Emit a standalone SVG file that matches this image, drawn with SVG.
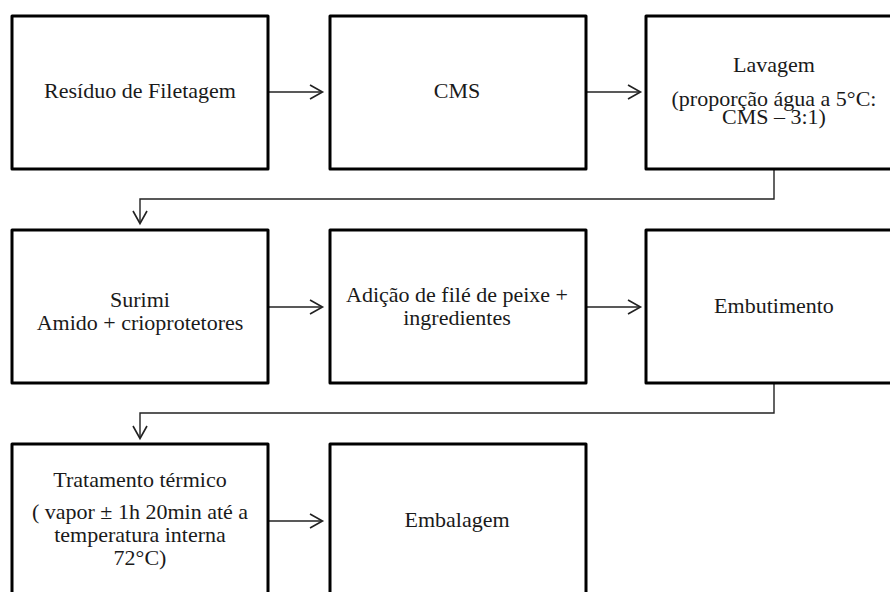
<svg xmlns="http://www.w3.org/2000/svg" width="890" height="592" viewBox="0 0 890 592">
<defs>
<style>
.box{fill:#fff;stroke:#000;stroke-width:3;stroke-linejoin:round}
.t{font-family:"Liberation Serif","Times New Roman",serif;font-size:22px;fill:#1a1a1a;text-anchor:middle}
.c{fill:none;stroke:#222;stroke-width:1.4}
.ah{fill:none;stroke:#222;stroke-width:1.6}
</style>
</defs>
<rect width="890" height="592" fill="#fff"/>
<g id="connectors">
<path class="c" d="M269 92H322"/><path class="ah" d="M310 85L322.5 92L310 99"/>
<path class="c" d="M586 92H640"/><path class="ah" d="M628 85L640.5 92L628 99"/>
<path class="c" d="M774 170V199H140V223"/><path class="ah" d="M133 211L140 223.5L147 211"/>
<path class="c" d="M269 307H322"/><path class="ah" d="M310 300L322.5 307L310 314"/>
<path class="c" d="M586 307H640"/><path class="ah" d="M628 300L640.5 307L628 314"/>
<path class="c" d="M774 384V413H140V438"/><path class="ah" d="M133 426L140 438.5L147 426"/>
<path class="c" d="M269 521H322"/><path class="ah" d="M310 514L322.5 521L310 528"/>
</g>
<g id="n1"><rect class="box" x="12" y="16" width="256" height="153"/><text class="t" x="140" y="98">Resíduo de Filetagem</text></g>
<g id="n2"><rect class="box" x="330" y="16" width="256" height="153"/><text class="t" x="457" y="98">CMS</text></g>
<g id="n3"><rect class="box" x="646" y="16" width="256" height="153"/><text class="t" x="774" y="71.5">Lavagem</text><text class="t" x="774" y="106">(proporção água a 5°C:</text><text class="t" x="774" y="123.5">CMS – 3:1)</text></g>
<g id="n4"><rect class="box" x="12" y="230" width="256" height="153"/><text class="t" x="140" y="306.5">Surimi</text><text class="t" x="140" y="329.5">Amido + crioprotetores</text></g>
<g id="n5"><rect class="box" x="330" y="230" width="256" height="153"/><text class="t" x="457" y="302">Adição de filé de peixe +</text><text class="t" x="457" y="325">ingredientes</text></g>
<g id="n6"><rect class="box" x="646" y="230" width="256" height="153"/><text class="t" x="774" y="313">Embutimento</text></g>
<g id="n7"><rect class="box" x="12" y="444" width="256" height="153"/><text class="t" x="140" y="487">Tratamento térmico</text><text class="t" x="140" y="519">( vapor ± 1h 20min até a</text><text class="t" x="140" y="541.5">temperatura interna</text><text class="t" x="140" y="565">72°C)</text></g>
<g id="n8"><rect class="box" x="330" y="444" width="256" height="153"/><text class="t" x="457" y="527">Embalagem</text></g>
</svg>
